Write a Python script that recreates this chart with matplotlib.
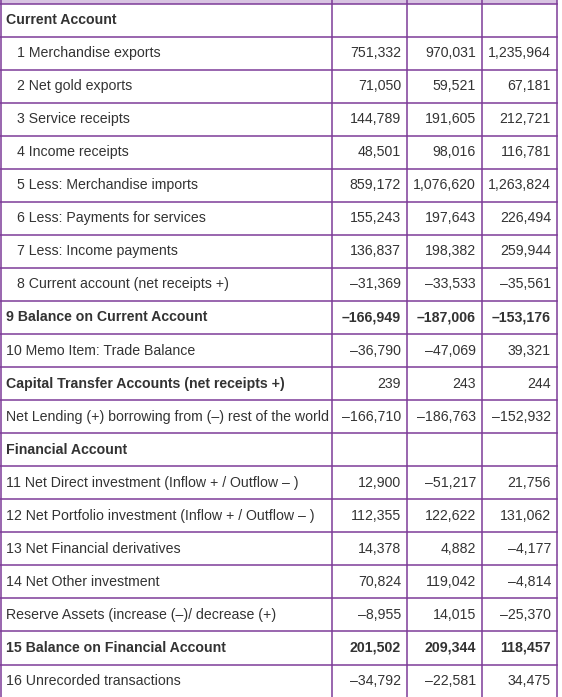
import matplotlib
matplotlib.use("Agg")
import matplotlib.pyplot as plt

labels = ["Current Account", "1 Merchandise exports", "2 Net gold exports", "3 Service receipts",
          "4 Income receipts", "5 Less: Merchandise imports", "6 Less: Payments for services",
          "7 Less: Income payments", "8 Current account (net receipts +)", "9 Balance on Current Account",
          "10 Memo Item: Trade Balance", "Capital Transfer Accounts (net receipts +)",
          "Net Lending (+) borrowing from (\u2013) rest of the world", "Financial Account",
          "11 Net Direct investment (Inflow + / Outflow \u2013 )",
          "12 Net Portfolio investment (Inflow + / Outflow \u2013 )", "13 Net Financial derivatives",
          "14 Net Other investment", "Reserve Assets (increase (\u2013)/ decrease (+)",
          "15 Balance on Financial Account", "16 Unrecorded transactions"]
indent = [0,1,1,1,1,1,1,1,1,0,0,0,0,0,0,0,0,0,0,0,0]
bold = [1,0,0,0,0,0,0,0,0,1,0,1,0,1,0,0,0,0,0,1,0]
col1 = ["", "751,332", "71,050", "144,789", "48,501", "859,172", "155,243", "136,837", "\u201331,369",
        "\u2013166,949", "\u201336,790", "239", "\u2013166,710", "", "12,900", "112,355", "14,378",
        "70,824", "\u20138,955", "201,502", "\u201334,792"]
col2 = ["", "970,031", "59,521", "191,605", "98,016", "1,076,620", "197,643", "198,382", "\u201333,533",
        "\u2013187,006", "\u201347,069", "243", "\u2013186,763", "", "\u201351,217", "122,622", "4,882",
        "119,042", "14,015", "209,344", "\u201322,581"]
col3 = ["", "1,235,964", "67,181", "212,721", "116,781", "1,263,824", "226,494", "259,944", "\u201335,561",
        "\u2013153,176", "39,321", "244", "\u2013152,932", "", "21,756", "131,062", "\u20134,177",
        "\u20134,814", "\u201325,370", "118,457", "34,475"]

plt.rcParams["font.family"] = ["Liberation Sans", "DejaVu Sans"]
W, H = 562, 697
fig = plt.figure(figsize=(W/100, H/100), dpi=100)
ax = fig.add_axes([0, 0, 1, 1])
ax.set_xlim(0, W); ax.set_ylim(H, 0); ax.axis("off")
purple = "#7d3c98"

top = 3.5; rh = 33.05
xs = [0.5, 332, 407, 482, 557]
ax.add_patch(plt.Rectangle((0, 0), 557, top, color="#d8c4e2", lw=0))
n = len(labels)
for i in range(n + 1):
    y = top + i * rh
    ax.plot([0, 557], [y, y], color=purple, lw=1.1)
for x in xs:
    ax.plot([x, x], [0, H], color=purple, lw=1.1)
fs = 10.2
tc = "#333333"
for i in range(n):
    yc = top + (i + 0.5) * rh
    w = "bold" if bold[i] else "normal"
    ax.text(17 if indent[i] else 6, yc, labels[i], ha="left", va="center", fontsize=fs,
            fontweight=w, color=tc)
    bv = "bold" if i in (9, 19) else "normal"
    for j, col in enumerate([col1, col2, col3]):
        ax.text(xs[j + 2] - 6, yc, col[i], ha="right", va="center", fontsize=fs,
                fontweight=bv, color=tc)
fig.savefig("out.png", dpi=100)
